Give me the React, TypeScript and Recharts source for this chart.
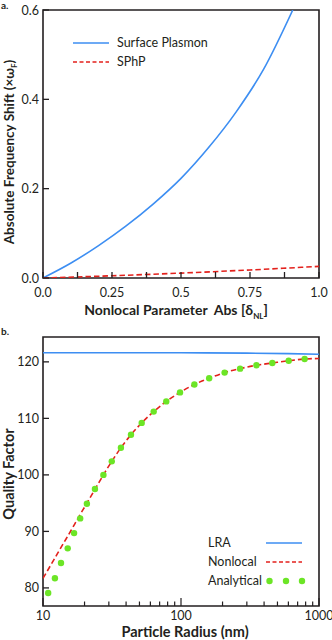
import { ComposedChart, Line, XAxis, YAxis, ReferenceArea, Legend, Label } from 'recharts';

const FONT = 'Lato, "Open Sans", sans-serif';
const INK = '#231f20';
const BLUE = '#3d8ef2';
const RED = '#e3211c';
const GREEN = '#6ce526';

// panel a: frequency shift vs nonlocal parameter
const deltaNL = [0, 0.1, 0.2, 0.3, 0.4, 0.5, 0.6, 0.7, 0.8, 0.905];
const surfacePlasmon = [0, 0.033, 0.072, 0.116, 0.166, 0.223, 0.292, 0.372, 0.468, 0.6];
const sphpDelta = [0, 0.25, 0.5, 0.75, 1];
const sphp = [0, 0.005, 0.011, 0.018, 0.026];
const shiftXDomain = [0, 1];
const shiftYDomain = [0, 0.6];
const shiftXTicks = [0, 0.125, 0.25, 0.375, 0.5, 0.625, 0.75, 0.875, 1];
const shiftXMajor = [0, 0.25, 0.5, 0.75, 1];
const shiftXLabels = ['0.0', '0.25', '0.5', '0.75', '1.0'];
const shiftYTicks = [0, 0.2, 0.4, 0.6];

// panel b: quality factor vs particle radius
const lraRadius = [10, 100, 300, 600, 1000];
const lra = [121.6, 121.6, 121.55, 121.45, 121.35];
const nonlocalRadius = [10, 12, 14, 16, 18, 20, 24, 27.4, 31.5, 36.7, 43.4, 51.9, 63.4, 78.2, 98.4, 125, 160, 207, 268, 352, 459, 603, 787, 1000];
const nonlocal = [81.7, 85.0, 87.8, 90.2, 92.4, 94.3, 97.6, 100.0, 102.4, 104.8, 107.1, 109.2, 111.2, 113.0, 114.6, 116.0, 117.1, 118.1, 118.8, 119.4, 119.8, 120.2, 120.5, 120.6];
const analyticalRadius = [10.9, 12.2, 13.5, 15.1, 16.8, 18.6, 20.8, 23.8, 27.4, 31.5, 36.7, 43.4, 51.9, 63.4, 78.2, 98.4, 125, 160, 207, 268, 352, 459, 603, 787];
const analytical = [79.1, 81.7, 84.4, 87.0, 89.7, 92.3, 94.9, 97.5, 100.0, 102.4, 104.8, 107.1, 109.2, 111.2, 113.0, 114.6, 116.0, 117.1, 118.1, 118.8, 119.4, 119.8, 120.2, 120.5];
const radiusDomain = [10, 1000];
const qualityDomain = [76.8, 124.4];
const radiusTicks = [10, 20, 30, 40, 50, 60, 70, 80, 90, 100, 200, 300, 400, 500, 600, 700, 800, 900, 1000];
const radiusMajor = [10, 100, 1000];
const qualityTicks = [80, 90, 100, 110, 120];

const zip = (xs: number[], ys: number[]) => xs.map((x, i) => ({ x, y: ys[i] }));

const tickText = { fontFamily: FONT, fontSize: 12.5, fill: INK };
const titleText = { fontFamily: FONT, fontSize: 14, fontWeight: 700, fill: INK };
const DASH = '5.5 3';

function YTick({ x, y, payload, digits }: any) {
  return (
    <g>
      <line x1={x} x2={x + 6} y1={y} y2={y} stroke={INK} strokeWidth={1.3} />
      <text x={x - 4} y={y + 4.5} textAnchor="end" {...tickText}>
        {payload.value.toFixed(digits)}
      </text>
    </g>
  );
}

function ShiftXTick({ x, y, payload }: any) {
  const i = shiftXMajor.indexOf(payload.value);
  return (
    <g>
      <line x1={x} x2={x} y1={y} y2={y - 6} stroke={INK} strokeWidth={1.3} />
      {i >= 0 && (
        <text x={x} y={y + 18.5} textAnchor="middle" {...tickText}>
          {shiftXLabels[i]}
        </text>
      )}
    </g>
  );
}

function RadiusXTick({ x, y, payload }: any) {
  const major = radiusMajor.includes(payload.value);
  return (
    <g>
      <line x1={x} x2={x} y1={y} y2={y - (major ? 8 : 4.5)} stroke={INK} strokeWidth={1.2} />
      {major && (
        <text x={x} y={y + 14} textAnchor="middle" {...tickText}>
          {payload.value}
        </text>
      )}
    </g>
  );
}

function LineIcon({ color, dash }: { color: string; dash?: string }) {
  return (
    <svg width={36} height={10} style={{ display: 'block' }}>
      <line x1={0} x2={36} y1={5} y2={5} stroke={color} strokeWidth={1.6} strokeDasharray={dash} />
    </svg>
  );
}

function DotsIcon() {
  return (
    <svg width={40} height={10} style={{ display: 'block' }}>
      {[3.5, 20, 36].map(cx => <circle key={cx} cx={cx} cy={5} r={3.2} fill={GREEN} />)}
    </svg>
  );
}

const rowStyle = { display: 'flex', alignItems: 'center', height: 19, fontFamily: FONT, fontSize: 12.5, color: INK };

function ShiftLegend() {
  return (
    <div>
      <div style={rowStyle}><LineIcon color={BLUE} /><span style={{ marginLeft: 8 }}>Surface Plasmon</span></div>
      <div style={rowStyle}><LineIcon color={RED} dash="4 2.5" /><span style={{ marginLeft: 8 }}>SPhP</span></div>
    </div>
  );
}

function QualityLegend() {
  return (
    <div>
      <div style={rowStyle}><span style={{ width: 58 }}>LRA</span><LineIcon color={BLUE} /></div>
      <div style={rowStyle}><span style={{ width: 58 }}>Nonlocal</span><LineIcon color={RED} dash="4 2.5" /></div>
      <div style={rowStyle}><span style={{ width: 58 }}>Analytical</span><DotsIcon /></div>
    </div>
  );
}

const panelLetter = { position: 'absolute' as const, left: 1, fontFamily: FONT, fontSize: 10, fontWeight: 700, color: INK };

function ShiftChart() {
  return (
    <div style={{ position: 'relative', width: 332, height: 325 }}>
      <div style={{ ...panelLetter, top: -1 }}>a.</div>
      <ComposedChart width={332} height={325} margin={{ top: 10, right: 13, bottom: 0, left: 0 }}>
        <XAxis
          dataKey="x" type="number" domain={shiftXDomain} ticks={shiftXTicks} interval={0}
          height={47} axisLine={false} tickLine={false} tickSize={0} tickMargin={0}
          tick={(p: any) => <ShiftXTick {...p} />}
        >
          <Label
            content={() => (
              <text x={176} y={315} textAnchor="middle" {...titleText}>
                Nonlocal Parameter{'\u00a0\u00a0'}Abs [δ
                <tspan dy={4} fontSize={8}>NL</tspan>
                <tspan dy={-4}>]</tspan>
              </text>
            )}
          />
        </XAxis>
        <YAxis
          dataKey="y" type="number" domain={shiftYDomain} ticks={shiftYTicks} interval={0} allowDataOverflow
          width={43} axisLine={false} tickLine={false} tickSize={0} tickMargin={0}
          tick={(p: any) => <YTick {...p} digits={1} />}
        >
          <Label
            content={() => (
              <text transform="translate(14,152) rotate(-90)" textAnchor="middle" {...titleText} fontSize={13.5}>
                Absolute Frequency Shift (×ω
                <tspan dy={3} fontSize={8}>F</tspan>
                <tspan dy={-3}>)</tspan>
              </text>
            )}
          />
        </YAxis>
        <Line data={zip(deltaNL, surfacePlasmon)} dataKey="y" type="monotone" stroke={BLUE} strokeWidth={1.6} dot={false} isAnimationActive={false} />
        <Line data={zip(sphpDelta, sphp)} dataKey="y" type="monotone" stroke={RED} strokeWidth={1.6} strokeDasharray={DASH} dot={false} isAnimationActive={false} />
        <ReferenceArea
          x1={shiftXDomain[0]} x2={shiftXDomain[1]} y1={shiftYDomain[0]} y2={shiftYDomain[1]}
          fill="none" fillOpacity={0} stroke={INK} strokeWidth={1.6} strokeOpacity={1} ifOverflow="visible"
        />
        <Legend
          layout="vertical" align="center" verticalAlign="middle"
          wrapperStyle={{ left: 73, top: 33, width: 160 }}
          content={() => <ShiftLegend />}
        />
      </ComposedChart>
    </div>
  );
}

function QualityChart() {
  return (
    <div style={{ position: 'relative', width: 332, height: 315 }}>
      <div style={{ ...panelLetter, top: 0 }}>b.</div>
      <ComposedChart width={332} height={315} margin={{ top: 12, right: 13, bottom: 0, left: 0 }}>
        <XAxis
          dataKey="x" type="number" scale="log" domain={radiusDomain} ticks={radiusTicks} interval={0} allowDataOverflow
          height={34} axisLine={false} tickLine={false} tickSize={0} tickMargin={0}
          tick={(p: any) => <RadiusXTick {...p} />}
        >
          <Label
            content={() => (
              <text x={185} y={312} textAnchor="middle" {...titleText} fontSize={14.5}>
                Particle Radius (nm)
              </text>
            )}
          />
        </XAxis>
        <YAxis
          dataKey="y" type="number" domain={qualityDomain} ticks={qualityTicks} interval={0} allowDataOverflow
          width={43} axisLine={false} tickLine={false} tickSize={0} tickMargin={0}
          tick={(p: any) => <YTick {...p} digits={0} />}
        >
          <Label
            content={() => (
              <text transform="translate(14,149) rotate(-90)" textAnchor="middle" {...titleText} fontSize={14.5}>
                Quality Factor
              </text>
            )}
          />
        </YAxis>
        <Line data={zip(lraRadius, lra)} dataKey="y" type="monotone" stroke={BLUE} strokeWidth={1.6} dot={false} isAnimationActive={false} />
        <Line data={zip(nonlocalRadius, nonlocal)} dataKey="y" type="monotone" stroke={RED} strokeWidth={1.6} strokeDasharray={DASH} dot={false} isAnimationActive={false} />
        <Line
          data={zip(analyticalRadius, analytical)} dataKey="y" stroke="none"
          dot={{ r: 3.2, fill: GREEN, stroke: 'none' }} isAnimationActive={false}
        />
        <ReferenceArea
          x1={radiusDomain[0]} x2={radiusDomain[1]} y1={qualityDomain[0]} y2={qualityDomain[1]}
          fill="none" fillOpacity={0} stroke={INK} strokeWidth={1.6} strokeOpacity={1} ifOverflow="visible"
        />
        <Legend
          layout="vertical" align="center" verticalAlign="middle"
          wrapperStyle={{ left: 208, top: 208, width: 110 }}
          content={() => <QualityLegend />}
        />
      </ComposedChart>
    </div>
  );
}

export default function App() {
  return (
    <div style={{ position: 'absolute', left: 0, top: 0, width: 332, height: 640, background: '#fff' }}>
      <ShiftChart />
      <QualityChart />
    </div>
  );
}
